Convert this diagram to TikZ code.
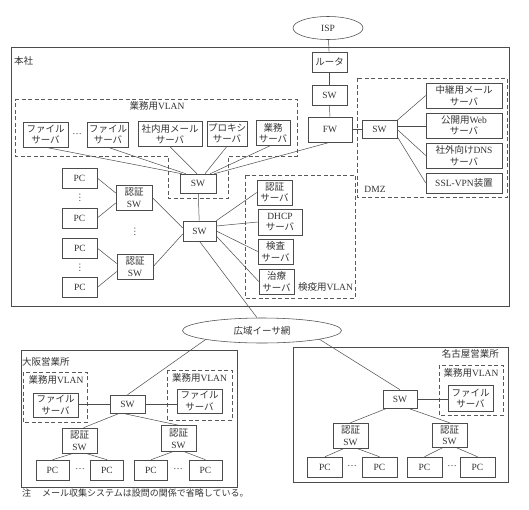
\documentclass[tikz,border=0pt]{standalone}
\usepackage{fontspec}
\setmainfont{Liberation Serif}
\newfontfamily\jpf{Noto Sans CJK JP}
\newcommand\jt[1]{{\jpf #1}}
\usetikzlibrary{shapes.geometric,calc}
\begin{document}
\begin{tikzpicture}[x=1pt,y=-1pt,
  ink/.style={draw=black!70, line width=0.55pt},
  box/.style={ink, rectangle, inner sep=0pt, align=center, font=\fontsize{9.5}{11.5}\selectfont, text=black!80},
  bx/.style 2 args={box, minimum width=#1pt, minimum height=#2pt},
  ell/.style 2 args={ink, ellipse, inner sep=0pt, minimum width=#1pt, minimum height=#2pt, font=\fontsize{9.5}{11.5}\selectfont, text=black!80},
  lbl/.style={inner sep=0pt, font=\fontsize{9.5}{11.5}\selectfont, text=black!80},
  zone/.style={draw=black!65, line width=0.55pt, dash pattern=on 4pt off 2.5pt},
  site/.style={draw=black!70, line width=0.7pt},
  conn/.style={draw=black!70, line width=0.5pt}
]
\useasboundingbox (0,0) rectangle (529,509);
\fill[white] (0,0) rectangle (529,509);

% ---------- areas ----------
\draw[site] (11,47) rectangle (509,306);
\node[lbl, anchor=west] (honsha) at (14,61) {\jt{本社}};
\draw[zone] (15,99) -- (297,99) -- (297,156) -- (228,156) -- (228,198) -- (168,198) -- (168,156) -- (15,156) -- cycle;
\node[lbl] (vlanlbl) at (157,106) {\jt{業務用}VLAN};
\draw[zone] (357,78) rectangle (507,197);
\node[lbl] (dmzlbl) at (375,189) {DMZ};
\draw[zone] (245,175) rectangle (355,298);
\node[lbl] (kenekilbl) at (325.5,287) {\jt{検疫用}VLAN};

\draw[site] (21,350) rectangle (237,487);
\node[lbl, anchor=west] (osaka) at (22,362) {\jt{大阪営業所}};
\draw[zone] (23,372) rectangle (87,422);
\node[lbl] (ov1) at (56,380) {\jt{業務用}VLAN};
\draw[zone] (167,370) rectangle (232,420);
\node[lbl] (ov2) at (199.5,378) {\jt{業務用}VLAN};

\draw[site] (293,347) rectangle (508,482);
\node[lbl, anchor=east] (nagoya) at (499,354) {\jt{名古屋営業所}};
\draw[zone] (439,365) rectangle (503,415);
\node[lbl] (nv) at (471,373) {\jt{業務用}VLAN};

% ---------- main office nodes ----------
\node[ell={70}{23}] (isp) at (328,28) {ISP};
\node[bx={35}{20}] (router) at (329.5,62) {\jt{ルータ}};
\node[bx={35}{20}] (swtop) at (329.5,95) {SW};
\node[bx={44}{25}] (fw) at (330,129.5) {FW};
\node[bx={35}{18}] (dmzsw) at (379.5,129.5) {SW};
\node[bx={76}{25}] (relay) at (464,95.5) {\jt{中継用メール}\\\jt{サーバ}};
\node[bx={76}{25}] (web) at (464,125.5) {\jt{公開用}Web\\\jt{サーバ}};
\node[bx={76}{25}] (dns) at (464,155.5) {\jt{社外向け}DNS\\\jt{サーバ}};
\node[bx={76}{20}] (vpn) at (464,183) {SSL-VPN\jt{装置}};

\node[bx={45}{25}] (file1) at (45.5,134.5) {\jt{ファイル}\\\jt{サーバ}};
\node[lbl] (hd1) at (77,134) {…};
\node[bx={41}{25}] (file2) at (108,134.5) {\jt{ファイル}\\\jt{サーバ}};
\node[bx={64}{25}] (mail) at (170,134) {\jt{社内用メール}\\\jt{サーバ}};
\node[bx={40}{25}] (proxy) at (227,133.5) {\jt{プロキシ}\\\jt{サーバ}};
\node[bx={34}{25}] (gyomu) at (273,133) {\jt{業務}\\\jt{サーバ}};
\node[bx={36}{19}] (sw1) at (198,183.5) {SW};
\node[bx={33}{20}] (sw2) at (199.5,231) {SW};

\node[bx={36}{25}] (auth1) at (134,197.5) {\jt{認証}\\SW};
\node[bx={36}{25}] (auth2) at (135,266.5) {\jt{認証}\\SW};
\node[lbl, rotate=90] (vd0) at (135,232) {…};
\node[bx={35}{20}] (pc1) at (79.5,178) {PC};
\node[bx={35}{20}] (pc2) at (79.5,218) {PC};
\node[bx={35}{20}] (pc3) at (80,248.5) {PC};
\node[bx={35}{20}] (pc4) at (80,287) {PC};
\node[lbl, rotate=90] (vd1) at (80,198) {…};
\node[lbl, rotate=90] (vd2) at (80,268) {…};

\node[bx={35}{25}] (authsrv) at (274.5,192.5) {\jt{認証}\\\jt{サーバ}};
\node[bx={44}{26}] (dhcp) at (280,222) {DHCP\\\jt{サーバ}};
\node[bx={35}{25}] (kensa) at (275.5,251.5) {\jt{検査}\\\jt{サーバ}};
\node[bx={35}{25}] (chiryo) at (276.5,281.5) {\jt{治療}\\\jt{サーバ}};

\node[ell={159}{25}] (wan) at (262,330.5) {\jt{広域イーサ網}};

% ---------- Osaka ----------
\node[bx={45}{24}] (ofile1) at (55.5,405) {\jt{ファイル}\\\jt{サーバ}};
\node[bx={35}{18}] (osw) at (127.5,404) {SW};
\node[bx={45}{24}] (ofile2) at (199.5,401) {\jt{ファイル}\\\jt{サーバ}};
\node[bx={35}{25}] (oauth1) at (79.5,440.5) {\jt{認証}\\SW};
\node[bx={35}{26}] (oauth2) at (178.5,438.5) {\jt{認証}\\SW};
\node[bx={33}{20}] (opc1) at (52.5,470) {PC};
\node[bx={33}{20}] (opc2) at (107,470) {PC};
\node[bx={33}{20}] (opc3) at (151,470) {PC};
\node[bx={33}{20}] (opc4) at (205.5,470) {PC};
\node[lbl] (od1) at (80,469) {…};
\node[lbl] (od2) at (178,469) {…};

% ---------- Nagoya ----------
\node[bx={34}{18}] (nsw) at (400,399) {SW};
\node[bx={45}{26}] (nfile) at (470.5,398.5) {\jt{ファイル}\\\jt{サーバ}};
\node[bx={35}{25}] (nauth1) at (350.5,435.5) {\jt{認証}\\SW};
\node[bx={35}{24}] (nauth2) at (449.5,435) {\jt{認証}\\SW};
\node[bx={35}{20}] (npc1) at (325,467) {PC};
\node[bx={35}{20}] (npc2) at (379.5,467) {PC};
\node[bx={35}{20}] (npc3) at (424.5,467) {PC};
\node[bx={35}{20}] (npc4) at (477.5,467) {PC};
\node[lbl] (nd1) at (352,466) {…};
\node[lbl] (nd2) at (452,466) {…};

\node[inner sep=0pt, anchor=west, font=\fontsize{9}{11}\selectfont, text=black!80] (note) at (22,493) {\jt{注}\hspace{11pt}\jt{メール収集システムは設問の関係で省略している。}};

% ---------- connectors ----------
\draw[conn] (isp) -- (router);
\draw[conn] (router) -- (swtop);
\draw[conn] (swtop) -- (fw);
\draw[conn] (fw) -- (dmzsw);
\draw[conn] (dmzsw.north east) -- (relay.west);
\draw[conn] ($(dmzsw.east)+(0,-3.5)$) -- ($(web.west)+(0,0.5)$);
\draw[conn] (dmzsw.east) -- (dns.west);
\draw[conn] ($(dmzsw.south east)+(0,-2)$) -- (vpn.west);

\draw[conn] (file1.south) -- ($(sw1.north west)+(2,0)$);
\draw[conn] (file2.south) -- ($(sw1.north west)+(6,0)$);
\draw[conn] (mail.south) -- ($(sw1.north)+(-1,0)$);
\draw[conn] (proxy.south) -- ($(sw1.north)+(7,0)$);
\draw[conn] ($(gyomu.south)+(-3,0)$) -- ($(sw1.north east)+(-6,0)$);
\draw[conn] (fw.south) -- ($(sw1.north east)+(-2,0)$);
\draw[conn] (sw1) -- (sw2);

\draw[conn] (auth1.east) -- ($(sw2.west)+(0,-3)$);
\draw[conn] (auth2.east) -- ($(sw2.west)+(0,3)$);
\draw[conn] (sw2.north east) -- (authsrv.west);
\draw[conn] ($(sw2.east)+(0,-5)$) -- (dhcp.west);
\draw[conn] (sw2.east) -- (kensa.west);
\draw[conn] ($(sw2.east)+(0,5)$) -- (chiryo.west);
\draw[conn] (pc1.east) -- ($(auth1.west)+(0,-4.5)$);
\draw[conn] (pc2.east) -- ($(auth1.west)+(0,5.5)$);
\draw[conn] (pc3.east) -- ($(auth2.west)+(0,-3)$);
\draw[conn] (pc4.east) -- ($(auth2.west)+(0,5)$);
\draw[conn] (sw2.south) -- ($(wan.north)+(-5,0)$);

\draw[conn] (wan.south west) -- (osw.north);
\draw[conn] ($(wan.center)+(57,8.5)$) -- (nsw.north);

\draw[conn] (osw.west) -- (osw.west -| ofile1.east);
\draw[conn] (osw.east) -- (osw.east -| ofile2.west);
\draw[conn] ($(osw.south)+(-8,0)$) -- ($(oauth1.north)+(4,0)$);
\draw[conn] ($(osw.south)+(-5,0)$) -- (oauth2.north);
\draw[conn] ($(oauth1.south)+(-6,0)$) -- (opc1.north);
\draw[conn] ($(oauth1.south)+(6,0)$) -- (opc2.north);
\draw[conn] ($(oauth2.south)+(-6,0)$) -- (opc3.north);
\draw[conn] ($(oauth2.south)+(6,0)$) -- (opc4.north);

\draw[conn] (nsw.east) -- (nsw.east -| nfile.west);
\draw[conn] ($(nsw.south)+(-13,0)$) -- (nauth1.north);
\draw[conn] ($(nsw.south)+(8,0)$) -- (nauth2.north);
\draw[conn] ($(nauth1.south)+(-6,0)$) -- (npc1.north);
\draw[conn] ($(nauth1.south)+(6,0)$) -- (npc2.north);
\draw[conn] ($(nauth2.south)+(-6,0)$) -- (npc3.north);
\draw[conn] ($(nauth2.south)+(6,0)$) -- (npc4.north);
\end{tikzpicture}
\end{document}
